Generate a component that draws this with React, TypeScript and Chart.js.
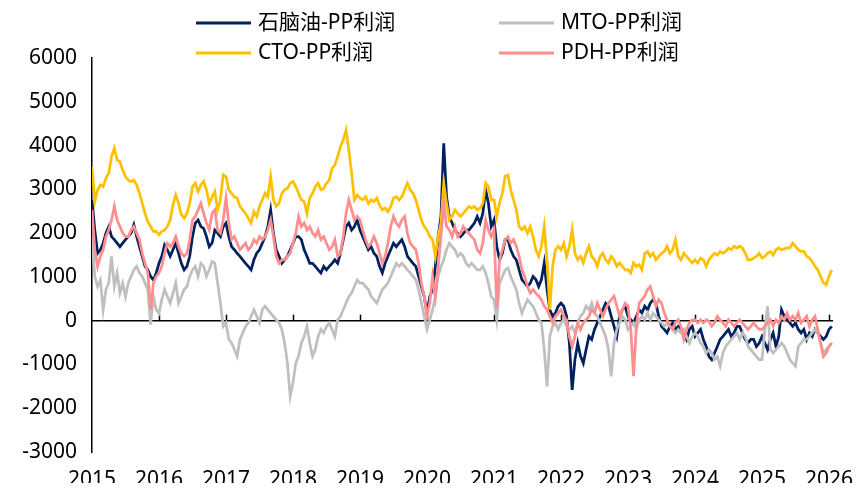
import React, { useEffect, useRef } from "react";
import { Chart, registerables } from "chart.js";

Chart.register(...registerables);

// Semi-monthly observations starting Jan 2015 (24 per year)
const START_YEAR = 2015;
const PER_YEAR = 24;
const YEAR_TICKS = [2015, 2016, 2017, 2018, 2019, 2020, 2021, 2022, 2023, 2024, 2025, 2026];
const Y_MIN = -3000;
const Y_MAX = 6000;
const Y_STEP = 1000;

const SERIES_LABELS = ["石脑油-PP利润", "MTO-PP利润", "CTO-PP利润", "PDH-PP利润"];
const SERIES_COLORS = ["#002060", "#BFBFBF", "#FFC000", "#FF8F8F"];

const NAPHTHA = [
  2760, 2070, 1540, 1620, 1770, 2000, 2150, 1920, 1850, 1770, 1690, 1770, 1850, 1920, 2000, 2190, 1920, 1690, 1470, 1240, 1160, 1010, 930, 1090,
  1310, 1470, 1730, 1620, 1470, 1620, 1770, 1540, 1310, 1160, 1240, 1470, 1920, 2230, 2300, 2150, 2110, 1920, 1690, 1770, 2070, 2000, 1920, 2150,
  2230, 1920, 1690, 1620, 1540, 1470, 1390, 1310, 1240, 1160, 1390, 1540, 1620, 1770, 1920, 2150, 2530, 1990, 1620, 1470, 1310, 1390, 1470, 1620,
  1770, 1920, 1920, 1850, 1620, 1470, 1310, 1310, 1240, 1160, 1090, 1240, 1160, 1240, 1310, 1390, 1310, 1540, 1850, 2150, 2230, 2070, 2150, 2300,
  2070, 1920, 1770, 1620, 1690, 1540, 1470, 1240, 1090, 1310, 1470, 1620, 1770, 1690, 1770, 1850, 1690, 1470, 1390, 1310, 1240, 1010, 780, 550,
  170, 550, 710, 1240, 1920, 2380, 4050, 2830, 2380, 2230, 2070, 1990, 1920, 1990, 2070, 2070, 2150, 2230, 2380, 2230, 2450, 2990, 2680, 2150,
  2300, 1700, 1390, 1540, 1850, 1850, 1620, 1470, 1390, 1160, 940, 860, 780, 860, 1010, 940, 780, 940, 1320, 710, 250, 100, 175, 330,
  400, 330, 100, -510, -1580, -890, -510, -810, -970, -660, -360, -430, -200, -50, 100, 250, 400, 330, 100, -130, -360, 100, 250, 330,
  100, 20, -50, 100, 250, 175, 330, 250, 400, 480, 400, 100, -130, -200, -280, -130, -50, -200, -130, -200, -280, -430, -200, -130,
  -360, -280, -200, -430, -590, -820, -890, -740, -590, -430, -360, -280, -200, -360, -280, -130, -130, -280, -430, -510, -430, -430, -590, -510,
  -360, -510, -660, -430, -280, -590, -360, 250, 100, 20, -50, -130, -50, -200, -280, -200, -430, -280, -360, -200, -280, -360, -430, -360,
  -200, -130,
];

const MTO = [
  1920, 1010, 780, 930, 250, 710, 860, 1470, 780, 1090, 630, 860, 550, 860, 1010, 1160, 1240, 1090, 1010, 860, 710, -90, 550, 250,
  170, 480, 710, 550, 400, 630, 860, 400, 550, 710, 780, 1010, 1160, 1240, 1010, 1310, 1240, 1010, 1160, 1350, 1310, 860, 400, -130,
  -50, -430, -510, -660, -810, -430, -280, -130, -50, 100, 250, 100, -50, 250, 330, 250, 170, 100, 20, -50, -200, -510, -970, -1730,
  -1420, -970, -810, -510, -360, -130, -510, -810, -660, -360, -200, -280, -130, -50, -200, -360, 20, 100, 250, 400, 550, 630, 780, 930,
  860, 860, 780, 710, 550, 480, 400, 550, 710, 780, 860, 1010, 1160, 1310, 1240, 1310, 1240, 1160, 1090, 1010, 930, 710, 400, 100,
  -200, 20, 250, 550, 1010, 1240, 1390, 1620, 1770, 1690, 1620, 1470, 1540, 1470, 1310, 1240, 1310, 1240, 1160, 1160, 1240, 1090, 860, 550,
  480, 20, 860, 1010, 1160, 1200, 1010, 860, 710, 400, 175, 330, 480, 400, 330, 175, 20, -50, -660, -1500, -360, -130, -50, -200,
  -50, 20, -130, -200, -130, -280, -50, 100, 175, 330, 250, 400, 175, 100, -50, -200, -360, -660, -1270, -510, -200, -50, 100, 20,
  -200, -130, -50, -200, 20, 100, 20, 175, 20, 175, 100, 20, -50, -130, -50, -130, -200, -280, -200, -280, -200, -360, -510, -360,
  -280, -360, -510, -590, -740, -660, -740, -890, -820, -1040, -740, -590, -510, -430, -360, -280, -430, -280, -360, -590, -660, -740, -820, -890,
  -890, -200, 330, -660, -740, -660, -590, -510, -590, -740, -890, -970, -1040, -590, -510, -430, -430, -360, -280, -200, -280, -510, -740, -660,
  -590, -510,
];

const CTO = [
  3520, 2720, 2990, 3100, 3060, 3250, 3370, 3750, 3940, 3670, 3630, 3440, 3290, 3210, 3180, 3210, 3100, 2910, 2680, 2450, 2260, 2150, 2040, 2040,
  1960, 2040, 2070, 2150, 2300, 2640, 2870, 2680, 2420, 2340, 2450, 2680, 3060, 3140, 2950, 3100, 3180, 2990, 2680, 2830, 2950, 2530, 2760, 3330,
  3290, 2990, 2910, 2830, 2800, 2610, 2530, 2450, 2340, 2230, 2490, 2380, 2610, 2760, 2910, 2830, 3290, 2760, 2610, 2680, 2910, 2990, 3020, 3140,
  3180, 3060, 2910, 2760, 2720, 2450, 2800, 2910, 3060, 3140, 2990, 3020, 3140, 3210, 3480, 3560, 3750, 3970, 4130, 4350, 3900, 3370, 2760, 2870,
  2800, 2760, 2830, 2680, 2760, 2720, 2800, 2640, 2530, 2570, 2490, 2610, 2800, 2830, 2760, 2830, 2990, 3140, 2990, 2910, 2760, 2530, 2300, 2150,
  2070, 1920, 1850, 1470, 1920, 2230, 3140, 2680, 2300, 2380, 2530, 2450, 2380, 2450, 2530, 2610, 2570, 2610, 2530, 2570, 2680, 3140, 3060, 2760,
  2760, 2380, 2690, 2910, 3300, 3330, 2990, 2760, 2530, 2150, 2080, 2150, 2000, 2150, 1920, 1620, 1470, 1700, 2150, 1390, 250, 1240, 1620, 1700,
  1620, 1770, 1470, 1700, 2080, 1540, 1390, 1470, 1320, 1540, 1700, 1470, 1390, 1240, 1470, 1540, 1390, 1320, 1470, 1390, 1240, 1320, 1240, 1160,
  1160, 1090, 1320, 1240, 1280, 1160, 1540, 1580, 1470, 1540, 1390, 1470, 1540, 1580, 1700, 1540, 1620, 1850, 1470, 1390, 1540, 1470, 1390, 1320,
  1390, 1320, 1430, 1390, 1240, 1390, 1470, 1540, 1500, 1580, 1540, 1580, 1660, 1620, 1700, 1660, 1700, 1660, 1540, 1390, 1390, 1430, 1470, 1540,
  1430, 1470, 1540, 1580, 1500, 1620, 1660, 1620, 1640, 1660, 1660, 1770, 1700, 1620, 1580, 1580, 1470, 1430, 1350, 1240, 1160, 1010, 860, 820,
  1010, 1160,
];

const PDH = [
  2530, 1620, 1240, 1470, 1620, 1920, 2070, 2300, 2610, 2300, 2150, 2000, 1920, 1920, 2070, 2150, 2000, 1850, 1540, 1310, 1090, 250, 860, 1010,
  1090, 1240, 1540, 1770, 1690, 1770, 1920, 1690, 1540, 1470, 1540, 1850, 2300, 2380, 2530, 2680, 2450, 2230, 2070, 2450, 2530, 2070, 2000, 2300,
  2800, 2230, 1850, 1920, 1770, 1620, 1690, 1770, 1620, 1690, 1850, 1770, 1920, 1850, 1920, 2070, 2300, 1920, 1470, 1310, 1390, 1390, 1470, 1540,
  1770, 2000, 2380, 2150, 2230, 2070, 2150, 2000, 1920, 2070, 1850, 1920, 1770, 1620, 1690, 1850, 1470, 1540, 1920, 2450, 2760, 2530, 2300, 2380,
  2300, 2070, 1850, 1690, 1770, 1920, 1770, 1540, 1310, 1470, 1770, 2150, 2380, 2230, 2150, 2300, 2380, 1990, 1770, 1690, 1620, 1310, 860, 550,
  100, 400, 1010, 550, 1240, 1920, 2680, 2150, 2070, 1920, 2150, 1920, 1990, 2150, 2070, 1990, 1920, 1850, 1620, 1540, 1770, 2300, 2070, 1920,
  2080, 300, 1390, 1620, 1850, 1920, 1770, 1850, 1700, 1470, 1160, 1010, 780, 630, 710, 630, 560, 480, 330, 250, 100, -50, 100, 175,
  250, 100, 20, -360, -590, -360, -50, -200, -50, 20, 100, 250, 175, 400, 250, 100, 250, 400, 480, 560, 330, 100, 250, 400,
  330, -200, -1270, -130, 400, 480, 560, 710, 780, 560, 330, 480, 400, 175, 20, -130, -200, -50, 20, -130, -430, -200, -50, 20,
  20, -50, 20, -50, 20, -15, -130, -50, 100, 20, -50, -130, 20, -50, -130, -50, 20, -50, -130, -200, -130, -50, -130, -200,
  -200, -130, -50, 20, -130, 20, -50, 100, 20, 175, 20, 100, 20, 175, -50, 20, 100, -130, 20, 100, -200, -510, -820, -740,
  -590, -510,
];

const SERIES_VALUES = [NAPHTHA, MTO, CTO, PDH];
// Legend grid: rows of dataset indices
const LEGEND_ROWS = [
  [0, 1],
  [2, 3],
];

const FONT_FAMILY = '"Noto Sans", "Noto Sans CJK SC", sans-serif';

const zeroAxisPlugin = {
  id: "zeroAxis",
  beforeDatasetsDraw(chart: any) {
    const { ctx, chartArea, scales } = chart;
    const y0 = scales.y.getPixelForValue(0);
    ctx.save();
    ctx.strokeStyle = "#000";
    ctx.lineWidth = 1.5;
    ctx.beginPath();
    ctx.moveTo(chartArea.left, y0);
    ctx.lineTo(chartArea.right, y0);
    ctx.stroke();
    YEAR_TICKS.slice(1).forEach((yr) => {
      const x = Math.round(scales.x.getPixelForValue(yr)) + 0.5;
      ctx.beginPath();
      ctx.moveTo(x, y0);
      ctx.lineTo(x, y0 - 6);
      ctx.stroke();
    });
    ctx.restore();
  },
};

const gridLegendPlugin = {
  id: "gridLegend",
  afterDraw(chart: any) {
    const { ctx, chartArea } = chart;
    const colX = [chartArea.left + 104, chartArea.left + 407];
    const rowY = [15, 45];
    const lineLen = 55;
    ctx.save();
    ctx.font = `21px ${FONT_FAMILY}`;
    ctx.textBaseline = "middle";
    ctx.textAlign = "left";
    LEGEND_ROWS.forEach((row, r) => {
      row.forEach((dsIdx, c) => {
        const ds = chart.data.datasets[dsIdx];
        const x = colX[c];
        const y = rowY[r];
        ctx.strokeStyle = ds.borderColor;
        ctx.lineWidth = 3;
        ctx.beginPath();
        ctx.moveTo(x, y);
        ctx.lineTo(x + lineLen, y);
        ctx.stroke();
        ctx.fillStyle = "#000";
        ctx.fillText(ds.label, x + lineLen + 7, y);
      });
    });
    ctx.restore();
  },
};

export default function App() {
  const canvasRef = useRef<HTMLCanvasElement | null>(null);

  useEffect(() => {
    if (!canvasRef.current) return;
    const drawOrder = [3, 2, 1, 0];
    const datasets = SERIES_VALUES.map((vals, i) => ({
      label: SERIES_LABELS[i],
      data: vals.map((v, k) => ({ x: START_YEAR + k / PER_YEAR, y: v })),
      borderColor: SERIES_COLORS[i],
      backgroundColor: SERIES_COLORS[i],
      borderWidth: 2.75,
      pointRadius: 0,
      tension: 0,
      fill: false,
      order: drawOrder[i],
    }));

    const chart = new Chart(canvasRef.current, {
      type: "line",
      data: { datasets },
      plugins: [zeroAxisPlugin, gridLegendPlugin],
      options: {
        animation: false,
        responsive: true,
        maintainAspectRatio: false,
        layout: { padding: { top: 50, right: 19, bottom: 0, left: 0 } },
        plugins: {
          legend: { display: false },
          tooltip: { enabled: false },
        },
        scales: {
          x: {
            type: "linear",
            min: START_YEAR,
            max: 2026.06,
            afterBuildTicks: (scale: any) => {
              scale.ticks = YEAR_TICKS.map((v) => ({ value: v }));
            },
            afterFit: (scale: any) => {
              scale.height = 39;
              scale.paddingLeft = 0;
              scale.paddingRight = 0;
            },
            grid: { display: false, drawTicks: false },
            border: { display: false },
            ticks: {
              autoSkip: false,
              maxRotation: 0,
              padding: 15,
              color: "#000",
              font: { size: 21, family: FONT_FAMILY },
              callback: (v: any) => String(v),
            },
          },
          y: {
            type: "linear",
            min: Y_MIN,
            max: Y_MAX,
            afterFit: (scale: any) => {
              scale.width = 84;
            },
            grid: { display: false, drawTicks: false },
            border: { display: true, color: "#000", width: 1.5 },
            ticks: {
              stepSize: Y_STEP,
              padding: 15,
              color: "#000",
              font: { size: 21, family: FONT_FAMILY },
              callback: (v: any) => String(v),
            },
          },
        },
      },
    });
    return () => chart.destroy();
  }, []);

  return (
    <div style={{ width: 844, height: 483, marginBottom: -8, position: "relative" }}>
      <canvas ref={canvasRef} />
    </div>
  );
}
